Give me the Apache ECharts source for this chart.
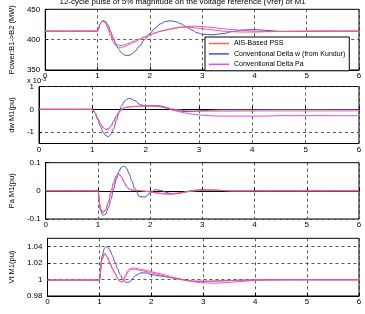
<!DOCTYPE html>
<html><head><meta charset="utf-8">
<script src="https://cdn.jsdelivr.net/npm/echarts@6/dist/echarts.min.js"></script>
<style>html,body{margin:0;padding:0;background:#fff}#c{width:365px;height:314px}</style>
</head><body><div id="c"></div>
<script>
const T = [0,0.5,1.0,1.05,1.1,1.15,1.2,1.25,1.3,1.35,1.4,1.45,1.5,1.55,1.6,1.65,1.7,1.8,1.9,2.0,2.1,2.2,2.3,2.4,2.5,2.6,2.7,2.8,2.9,3.0,3.2,3.4,3.6,3.8,4.0,4.2,4.5,5.0,5.5,6.0];
const seriesNames = ['AIS-Based PSS','Conventional Delta w (from Kundur)','Conventional Delta Pa'];
// Panel 1: Power B1->B2 (MW)
const pwrAIS = [414,414,414,426,431,428,418,406,396,390,387,386.5,388,390,392,394,396,400,404,408,411,414,416,418,419.5,420.5,420.5,420,419,418,416,414,413,412.5,412.5,413,413.5,414,414,414];
const pwrDw  = [414,414,414,426,431,430,424,414,403,393,385,379,375.5,374,374,376,379.5,389,400,410,419,426,430,431,429.5,426,421,416,411.5,409,408,410,413.5,416,416.5,415.5,413.5,413.5,414,414];
const pwrPa  = [414,414,414,426,431,429,420,409,400,394,391,390,391,392.5,394,396,397.5,401,404.5,408,411,413.5,415.5,417.5,419,420.5,421.5,422,422,421.5,420,418,416.5,415,414,413.5,413.5,414,414,414];
// Panel 2: dw M1 (x 1e-3 pu)
const dwAIS = [0,0,0,-0.15,-0.4,-0.62,-0.8,-0.88,-0.87,-0.75,-0.55,-0.35,-0.15,-0.02,0.06,0.09,0.1,0.12,0.13,0.14,0.14,0.13,0.1,0.06,0.02,-0.02,-0.05,-0.07,-0.08,-0.08,-0.08,-0.08,-0.08,-0.075,-0.075,-0.07,-0.07,-0.07,-0.07,-0.07];
const dwDw  = [0,0,0,-0.15,-0.45,-0.75,-1.0,-1.15,-1.2,-1.1,-0.85,-0.5,-0.12,0.15,0.35,0.45,0.48,0.38,0.2,0.15,0.15,0.16,0.14,0.07,-0.02,-0.07,-0.09,-0.1,-0.09,-0.07,-0.04,-0.02,-0.02,-0.02,-0.02,-0.015,-0.01,-0.01,-0.01,-0.01];
const dwPa  = [0,0,0,-0.15,-0.4,-0.62,-0.8,-0.88,-0.86,-0.72,-0.5,-0.28,-0.1,0.02,0.08,0.1,0.11,0.13,0.14,0.15,0.15,0.14,0.1,0.04,-0.03,-0.09,-0.14,-0.19,-0.22,-0.25,-0.28,-0.3,-0.3,-0.3,-0.3,-0.3,-0.28,-0.28,-0.28,-0.28];
// Panel 3: Pa M1 (pu)
const paAIS = [0,0,0,-0.065,-0.078,-0.068,-0.04,-0.005,0.03,0.055,0.062,0.05,0.03,0.014,0.006,0.003,0.002,0.001,-0.001,-0.003,-0.006,-0.008,-0.01,-0.01,-0.008,-0.006,-0.003,-0.001,0.001,0.002,0.002,0.001,0,0,0,0,0,0,0,0];
const paDw  = [0,0,0,-0.07,-0.087,-0.082,-0.06,-0.03,0.005,0.04,0.068,0.084,0.088,0.08,0.06,0.035,0.01,-0.02,-0.022,-0.008,0.004,0.002,-0.005,-0.01,-0.01,-0.007,-0.003,0.001,0.003,0.004,0.003,0.001,-0.001,-0.001,0,0,0,0,0,0];
const paPa  = [0,0,0,-0.063,-0.075,-0.066,-0.04,-0.008,0.025,0.05,0.058,0.05,0.032,0.016,0.007,0.003,0.002,0.001,-0.001,-0.004,-0.007,-0.01,-0.012,-0.012,-0.01,-0.007,-0.004,-0.001,0.001,0.002,0.003,0.001,0,0,0,0,0,0,0,0];
// Panel 4: Vt M1 (pu)
const vtAIS = [0.9993,0.9993,0.9993,1.025,1.032,1.028,1.021,1.014,1.008,1.002,0.9975,0.997,1.003,1.009,1.012,1.0125,1.012,1.011,1.0095,1.008,1.0065,1.005,1.0035,1.002,1.0005,0.9995,0.9985,0.998,0.9975,0.9975,0.998,0.9985,0.999,0.9993,0.9995,0.9995,0.9995,0.9995,0.9995,0.9995];
const vtDw  = [0.9993,0.9993,0.9993,1.028,1.038,1.04,1.036,1.029,1.021,1.013,1.006,1.0,0.997,0.9965,0.998,1.002,1.005,1.008,1.008,1.006,1.005,1.004,1.003,1.002,1.001,1.0,0.999,0.998,0.998,0.998,0.998,0.9985,0.999,0.9992,0.9995,0.9996,0.9997,0.9998,0.9997,0.9997];
const vtPa  = [0.9993,0.9993,0.9993,1.024,1.031,1.027,1.02,1.013,1.007,1.001,0.9975,0.998,1.005,1.011,1.0135,1.014,1.0135,1.0125,1.011,1.0095,1.008,1.0065,1.005,1.003,1.0015,1.0,0.9985,0.9975,0.9965,0.996,0.9955,0.996,0.997,0.998,0.999,0.9995,0.9997,0.9997,0.9997,0.9997];
const xTicks = [0,1,2,3,4,5,6];
const yNames = ['Power:B1->B2 (MW)','dw M1(pu)','Pa M1(pu)','Vt M1(pu)'];
const yTicks = [[350,400,450],[-1,0,1],[-0.1,0,0.1],[0.98,1,1.02,1.04]];
const yRanges = [[350,450],[-1.5,1],[-0.1,0.1],[0.98,1.05]];
const titleText = '12-cycle pulse of 5% magnitude on the voltage reference (Vref) of M1';

const colors = ['#f06464','#4a4ae6','#e84ce8'];
const panels = [[pwrAIS,pwrDw,pwrPa],[dwAIS,dwDw,dwPa],[paAIS,paDw,paPa],[vtAIS,vtDw,vtPa]];
const gridPos = [[9.3,60.7],[86.5,57],[162.7,56.3],[238.3,57.7]];
const font = 'Liberation Sans, Arial, sans-serif';

const grids=[],xAxes=[],yAxes=[],series=[];
for(let p=0;p<4;p++){
  grids.push({left:27,right:6,top:gridPos[p][0],height:gridPos[p][1],show:true,borderColor:'#000',borderWidth:1,backgroundColor:'#fff'});
  xAxes.push({type:'value',gridIndex:p,min:0,max:6,interval:1,
    axisLine:{show:true,lineStyle:{color:'#000',width:1}},
    axisTick:{show:true,inside:true,length:3,lineStyle:{color:'#000'}},
    axisLabel:{color:'#000',fontSize:8,fontFamily:font,margin:2,customValues:xTicks},
    splitLine:{show:true,lineStyle:{color:'#333',type:[3,3],width:0.8}}});
  yAxes.push({type:'value',gridIndex:p,min:yRanges[p][0],max:yRanges[p][1],
    name:yNames[p],nameLocation:'middle',nameGap:17,nameTextStyle:{fontSize:7.5,fontFamily:font,color:'#000'},
    axisLine:{show:true,lineStyle:{color:'#000',width:1}},
    axisTick:{show:true,inside:true,length:3,lineStyle:{color:'#000'},customValues:yTicks[p]},
    axisLabel:{color:'#000',fontSize:8,fontFamily:font,margin:5,customValues:yTicks[p]},
    splitLine:{show:true,lineStyle:{color:'#333',type:[3,3],width:0.8}}});
  for(let s=0;s<3;s++){
    series.push({type:'line',name:seriesNames[s],xAxisIndex:p,yAxisIndex:p,
      data:T.map((t,i)=>[t,panels[p][s][i]]),
      showSymbol:false,smooth:0.35,smoothMonotone:'x',
      lineStyle:{color:colors[s],width:1},itemStyle:{color:colors[s]},z:3+(s===0?2:s===2?1:0)});
  }
}
const chart = echarts.init(document.getElementById('c'),null,{renderer:'canvas'});
chart.setOption({
  animation:false,
  title:{text:titleText,left:'center',top:-7,textStyle:{fontSize:8,fontWeight:'normal',fontFamily:font,color:'#000'}},
  legend:{data:seriesNames,orient:'vertical',left:205,top:37,icon:'rect',itemWidth:20,itemHeight:1.5,itemGap:3.4,
    padding:[3,4,3,4],backgroundColor:'#fff',borderColor:'#000',borderWidth:1,
    textStyle:{fontSize:7,fontFamily:font,color:'#000',padding:[0,0,0,0]}},
  graphic:[{type:'text',left:27,top:76,style:{text:'x 10{s|-3}',fontSize:7.5,fontFamily:font,fill:'#000',rich:{s:{fontSize:5.5,verticalAlign:'top',padding:[0,0,4,0]}}}}],
  grid:grids,xAxis:xAxes,yAxis:yAxes,series:series
});
</script></body></html>
